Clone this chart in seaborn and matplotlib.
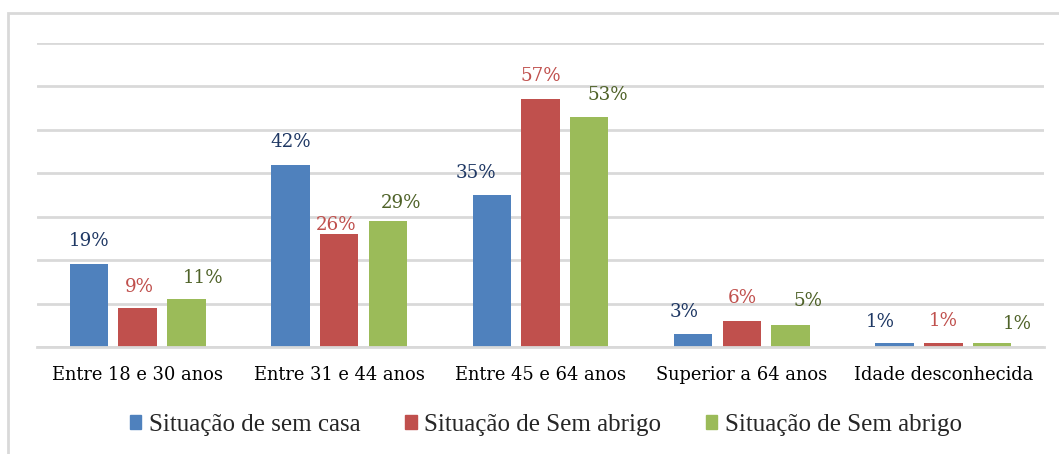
import matplotlib
matplotlib.use("Agg")
import matplotlib.pyplot as plt
import matplotlib.patches as mpatches
import seaborn as sns
import pandas as pd

# ---- data ----
categories = ["Entre 18 e 30 anos", "Entre 31 e 44 anos", "Entre 45 e 64 anos",
              "Superior a 64 anos", "Idade desconhecida"]
series_names = ["Situação de sem casa", "Situação de Sem abrigo", "Situação de Sem abrigo"]
sem_casa = [19, 42, 35, 3, 1]
sem_abrigo_a = [9, 26, 57, 6, 1]
sem_abrigo_b = [11, 29, 53, 5, 1]
y_ticks = [0, 10, 20, 30, 40, 50, 60, 70]

# ---- styles ----
bar_colors = ["#4F81BD", "#C0504D", "#9BBB59"]
label_colors = ["#1F3864", "#C0504D", "#4F6228"]
# label offsets (pixels: dx, dy above bar top to label centre)
label_offsets = [
    [(0, 23), (0, 23), (-16, 22), (-9, 22), (-14, 21)],
    [(2, 21), (-3, 9), (0, 23), (0, 23), (0, 22)],
    [(17, 21), (13, 18), (19, 22), (17, 24), (25, 19)],
]

values = [sem_casa, sem_abrigo_a, sem_abrigo_b]
rows = []
for si, vals in enumerate(values):
    for c, v in zip(categories, vals):
        rows.append({"cat": c, "series": f"s{si}", "val": v})
df = pd.DataFrame(rows)

sns.set_theme(style="white")
plt.rcParams["font.family"] = ["DejaVu Serif"]

fig = plt.figure(figsize=(10.59, 4.54), dpi=100)
ax = fig.add_axes([37 / 1059, 1 - 347 / 454, (1044 - 37) / 1059, (347 - 43) / 454])

sns.barplot(data=df, x="cat", y="val", hue="series", order=categories,
            hue_order=["s0", "s1", "s2"], palette=bar_colors, width=0.725,
            gap=0.21, saturation=1, ax=ax, legend=False, edgecolor="none")

ax.set_ylim(0, 70)
ax.set_yticks(y_ticks)
ax.set_yticklabels([])
ax.yaxis.grid(True, color="#D9D9D9", linewidth=2)
ax.set_axisbelow(True)
for s in ["top", "right", "left"]:
    ax.spines[s].set_visible(False)
ax.spines["bottom"].set_color("#D9D9D9")
ax.spines["bottom"].set_linewidth(2)
ax.set_xlabel("")
ax.set_ylabel("")
ax.tick_params(axis="x", length=0, pad=14, labelsize=12.9, labelcolor="#000000")
ax.tick_params(axis="y", length=0)

for si, cont in enumerate(ax.containers):
    for ci, bar in enumerate(cont):
        dx, dy = label_offsets[si][ci]
        x = bar.get_x() + bar.get_width() / 2
        y = bar.get_height()
        ax.annotate(f"{values[si][ci]}%", (x, y), xytext=(dx, dy),
                    textcoords="offset pixels", ha="center", va="center",
                    fontsize=13.2, color=label_colors[si])

handles = [mpatches.Patch(color=c) for c in bar_colors]
leg = fig.legend(handles, series_names, loc="center",
                 bbox_to_anchor=(546 / 1059, 1 - 425 / 454), ncol=3,
                 frameon=False, handlelength=0.45, handleheight=0.45,
                 handletextpad=0.3, columnspacing=1.8,
                 prop={"family": "Liberation Serif", "size": 18})

# outer chart border (light gray)
border = mpatches.Rectangle((8 / 1059, -0.05), 1.2, 1 - 13 / 454 + 0.05,
                            transform=fig.transFigure, fill=False,
                            edgecolor="#D9D9D9", linewidth=2, zorder=0)
fig.patches.append(border)

fig.savefig("out.png", dpi=100)
